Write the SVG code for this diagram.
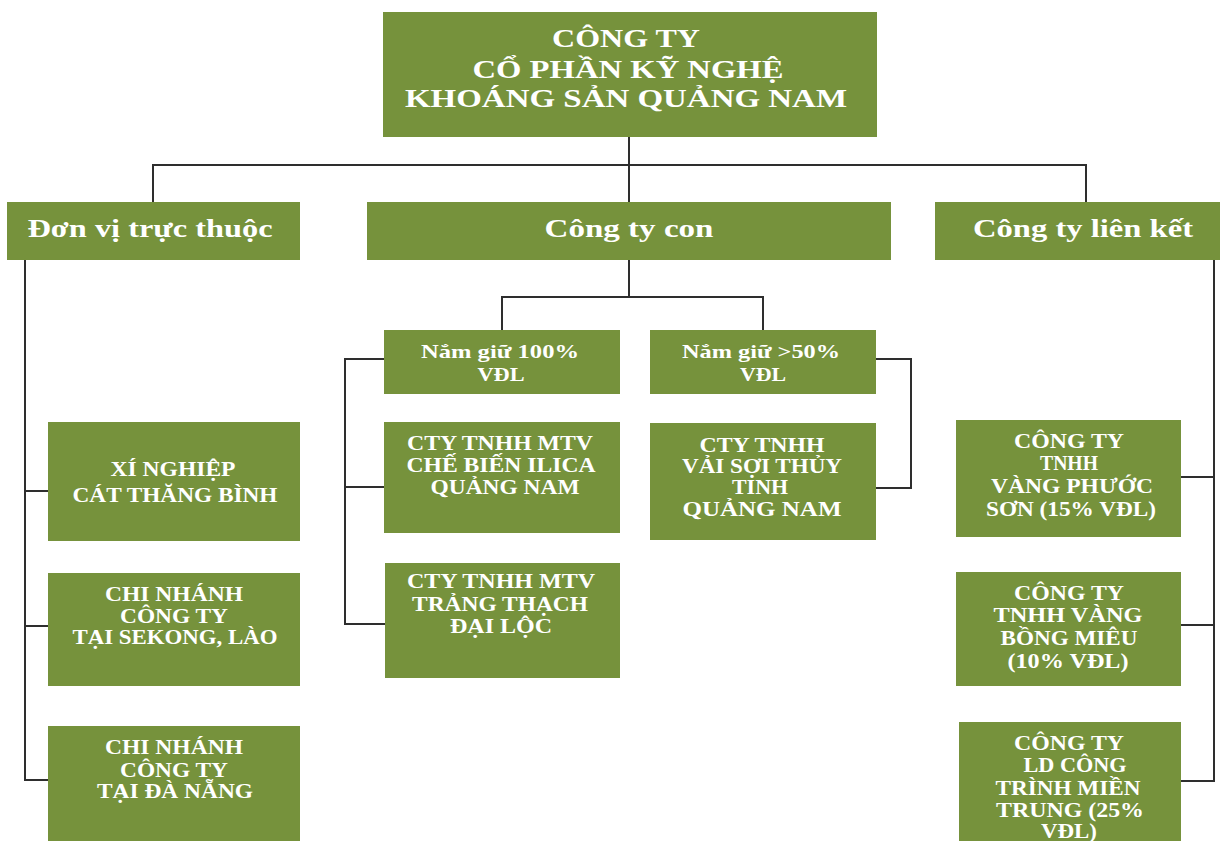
<svg xmlns="http://www.w3.org/2000/svg" width="1220" height="841" viewBox="0 0 1220 841">
<style>
.box{fill:#76923C;}
.t{fill:#ffffff;font-family:"Liberation Serif","Times New Roman",serif;font-weight:bold;text-anchor:middle;}
.big{font-size:25px;}
.sm{font-size:20px;}
.xs{font-size:19px;}
.ln{fill:none;stroke:#2e2e2e;stroke-width:2;}
</style>
<rect width="1220" height="841" fill="#ffffff"/>
<g id="connectors" class="ln">
<path d="M629 137V202"/>
<path d="M153 202V165H1086V202"/>
<path d="M629 260V297"/>
<path d="M502 330V297H763V330"/>
<path d="M384 359H345V624H385"/>
<path d="M345 487H384"/>
<path d="M876 359H911V488H876"/>
<path d="M25 260V780H48"/>
<path d="M25 491H48"/>
<path d="M25 626H48"/>
<path d="M1214 260V781H1181"/>
<path d="M1214 477H1181"/>
<path d="M1214 625H1181"/>
</g>
<g id="n-top">
<rect class="box" x="383" y="12" width="494" height="125"/>
<text class="t big" x="626" y="47" textLength="148" lengthAdjust="spacingAndGlyphs">CÔNG TY</text>
<text class="t big" x="628" y="78" textLength="311" lengthAdjust="spacingAndGlyphs">CỔ PHẦN KỸ NGHỆ</text>
<text class="t big" x="626" y="107" textLength="442" lengthAdjust="spacingAndGlyphs">KHOÁNG SẢN QUẢNG NAM</text>
</g>
<g id="n-donvi">
<rect class="box" x="7" y="202" width="293" height="58"/>
<text class="t big" x="150" y="237" textLength="245" lengthAdjust="spacingAndGlyphs">Đơn vị trực thuộc</text>
</g>
<g id="n-con">
<rect class="box" x="367" y="202" width="524" height="58"/>
<text class="t big" x="629" y="237" textLength="169" lengthAdjust="spacingAndGlyphs">Công ty con</text>
</g>
<g id="n-lienket">
<rect class="box" x="935" y="202" width="285" height="58"/>
<text class="t big" x="1083" y="237" textLength="220" lengthAdjust="spacingAndGlyphs">Công ty liên kết</text>
</g>
<g id="n-100">
<rect class="box" x="384" y="330" width="236" height="64"/>
<text class="t xs" x="500" y="358" textLength="158" lengthAdjust="spacingAndGlyphs">Nắm giữ 100%</text>
<text class="t xs" x="501" y="381" textLength="47" lengthAdjust="spacingAndGlyphs">VĐL</text>
</g>
<g id="n-50">
<rect class="box" x="650" y="330" width="226" height="64"/>
<text class="t xs" x="761" y="358" textLength="158" lengthAdjust="spacingAndGlyphs">Nắm giữ &gt;50%</text>
<text class="t xs" x="763" y="381" textLength="46" lengthAdjust="spacingAndGlyphs">VĐL</text>
</g>
<g id="n-silica">
<rect class="box" x="384" y="422" width="236" height="111"/>
<text class="t sm" x="500" y="450" textLength="186" lengthAdjust="spacingAndGlyphs">CTY  TNHH MTV</text>
<text class="t sm" x="501" y="472" textLength="189" lengthAdjust="spacingAndGlyphs">CHẾ BIẾN  ILICA</text>
<text class="t sm" x="505" y="494" textLength="149" lengthAdjust="spacingAndGlyphs">QUẢNG NAM</text>
</g>
<g id="n-vaisoi">
<rect class="box" x="650" y="423" width="226" height="117"/>
<text class="t sm" x="762" y="452" textLength="125" lengthAdjust="spacingAndGlyphs">CTY TNHH</text>
<text class="t sm" x="762" y="473" textLength="160" lengthAdjust="spacingAndGlyphs">VẢI SỢI THỦY</text>
<text class="t sm" x="760" y="494" textLength="56" lengthAdjust="spacingAndGlyphs">TINH</text>
<text class="t sm" x="762" y="516" textLength="159" lengthAdjust="spacingAndGlyphs">QUẢNG  NAM</text>
</g>
<g id="n-trangthach">
<rect class="box" x="385" y="563" width="235" height="115"/>
<text class="t sm" x="501" y="588" textLength="188" lengthAdjust="spacingAndGlyphs">CTY  TNHH MTV</text>
<text class="t sm" x="500" y="611" textLength="176" lengthAdjust="spacingAndGlyphs">TRẢNG THẠCH</text>
<text class="t sm" x="501" y="633" textLength="102" lengthAdjust="spacingAndGlyphs">ĐẠI LỘC</text>
</g>
<g id="n-xinghiep">
<rect class="box" x="48" y="422" width="252" height="119"/>
<text class="t sm" x="173" y="476" textLength="125" lengthAdjust="spacingAndGlyphs">XÍ NGHIỆP</text>
<text class="t sm" x="175" y="502" textLength="205" lengthAdjust="spacingAndGlyphs">CÁT THĂNG BÌNH</text>
</g>
<g id="n-sekong">
<rect class="box" x="48" y="573" width="252" height="113"/>
<text class="t sm" x="174" y="601" textLength="138" lengthAdjust="spacingAndGlyphs">CHI NHÁNH</text>
<text class="t sm" x="174" y="623" textLength="108" lengthAdjust="spacingAndGlyphs">CÔNG TY</text>
<text class="t sm" x="175" y="644" textLength="205" lengthAdjust="spacingAndGlyphs">TẠI SEKONG, LÀO</text>
</g>
<g id="n-danang">
<rect class="box" x="48" y="726" width="252" height="120"/>
<text class="t sm" x="174" y="754" textLength="138" lengthAdjust="spacingAndGlyphs">CHI NHÁNH</text>
<text class="t sm" x="174" y="777" textLength="108" lengthAdjust="spacingAndGlyphs">CÔNG TY</text>
<text class="t sm" x="175" y="798" textLength="156" lengthAdjust="spacingAndGlyphs">TẠI ĐÀ NẴNG</text>
</g>
<g id="n-phuocson">
<rect class="box" x="956" y="420" width="225" height="117"/>
<text class="t sm" x="1069" y="448" textLength="110" lengthAdjust="spacingAndGlyphs">CÔNG TY</text>
<text class="t sm" x="1069" y="470" textLength="58" lengthAdjust="spacingAndGlyphs">TNHH</text>
<text class="t sm" x="1072" y="493" textLength="162" lengthAdjust="spacingAndGlyphs">VÀNG PHƯỚC</text>
<text class="t sm" x="1071" y="516" textLength="170" lengthAdjust="spacingAndGlyphs">SƠN (15% VĐL)</text>
</g>
<g id="n-bongmieu">
<rect class="box" x="956" y="572" width="225" height="114"/>
<text class="t sm" x="1069" y="600" textLength="110" lengthAdjust="spacingAndGlyphs">CÔNG TY</text>
<text class="t sm" x="1068" y="622" textLength="149" lengthAdjust="spacingAndGlyphs">TNHH VÀNG</text>
<text class="t sm" x="1069" y="645" textLength="137" lengthAdjust="spacingAndGlyphs">BỒNG MIÊU</text>
<text class="t sm" x="1068" y="668" textLength="121" lengthAdjust="spacingAndGlyphs">(10% VĐL)</text>
</g>
<g id="n-mientrung">
<rect class="box" x="959" y="722" width="222" height="124"/>
<text class="t sm" x="1069" y="750" textLength="110" lengthAdjust="spacingAndGlyphs">CÔNG TY</text>
<text class="t sm" x="1075" y="772" textLength="103" lengthAdjust="spacingAndGlyphs">LD CÔNG</text>
<text class="t sm" x="1068" y="795" textLength="145" lengthAdjust="spacingAndGlyphs">TRÌNH MIỀN</text>
<text class="t sm" x="1070" y="817" textLength="148" lengthAdjust="spacingAndGlyphs">TRUNG (25%</text>
<text class="t sm" x="1069" y="838" textLength="56" lengthAdjust="spacingAndGlyphs">VĐL)</text>
</g>
</svg>
